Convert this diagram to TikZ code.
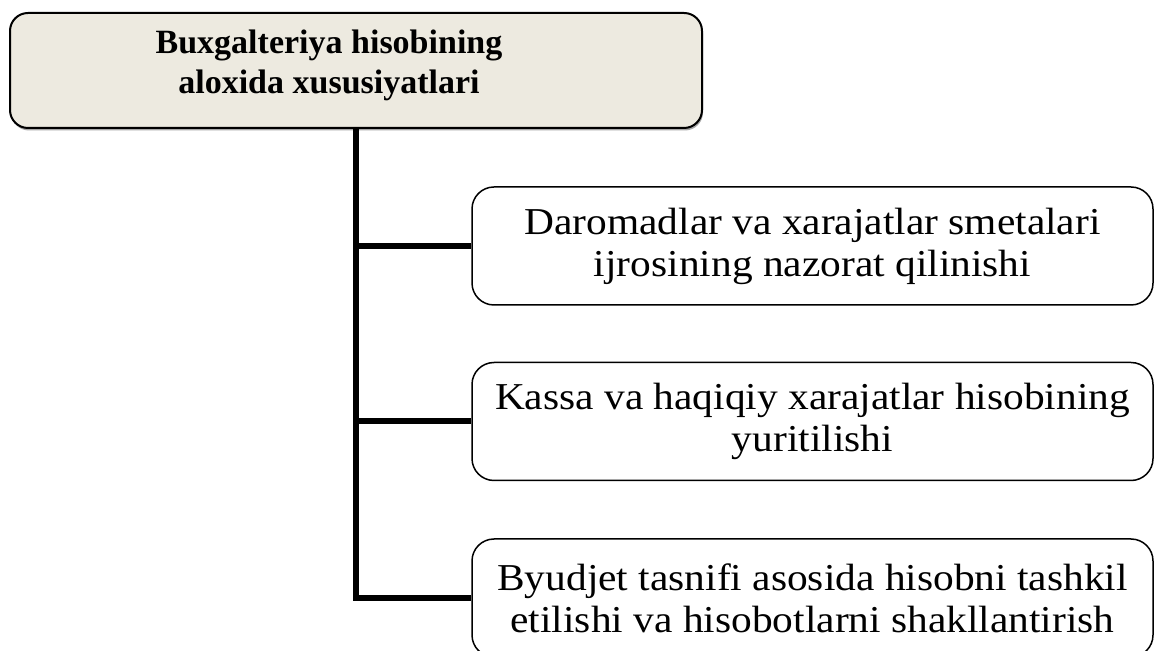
\documentclass[tikz,border=0pt]{standalone}
\usepackage{fontspec}
\setmainfont{Liberation Serif}
\newfontfamily\wideserif[FakeStretch=1.09]{Liberation Serif}
\usetikzlibrary{shadows}
\definecolor{topfill}{RGB}{237,234,224}
\tikzset{
  topbox/.style={draw=black, line width=2pt, fill=topfill, rounded corners=18pt,
    minimum width=692pt, minimum height=115pt,
    drop shadow={shadow xshift=1pt, shadow yshift=-2.5pt, fill=black!35, opacity=1}},
  toptext/.style={align=center, inner sep=0pt,
    font=\fontsize{34}{40}\selectfont\bfseries},
  itembox/.style={draw=black, line width=1.5pt, fill=white, rounded corners=22pt,
    minimum width=681pt, minimum height=118pt, align=center, inner sep=0pt,
    font=\wideserif\fontsize{38}{42}\selectfont},
  branch/.style={line width=6pt}
}
\begin{document}
\begin{tikzpicture}[x=1pt,y=1pt]
\useasboundingbox (0,0) rectangle (1155,650);
\node[topbox] (top) at (356,579.5) {};
\node[toptext] (toplabel) at (329,585) {Buxgalteriya hisobining\\aloxida xususiyatlari};
\node[itembox] (d1) at (812.5,404) {Daromadlar va xarajatlar smetalari\\ijrosining nazorat qilinishi};
\node[itembox] (d2) at (812.5,228.5) {Kassa va haqiqiy xarajatlar hisobining\\yuritilishi};
\node[itembox] (d3) at (812.5,52) {Byudjet tasnifi asosida hisobni tashkil\\etilishi va hisobotlarni shakllantirish};
\draw[branch] (top.south) |- (d3.west);
\draw[branch] (top.south |- d1.west) -- (d1.west);
\draw[branch] (top.south |- d2.west) -- (d2.west);
\end{tikzpicture}
\end{document}
